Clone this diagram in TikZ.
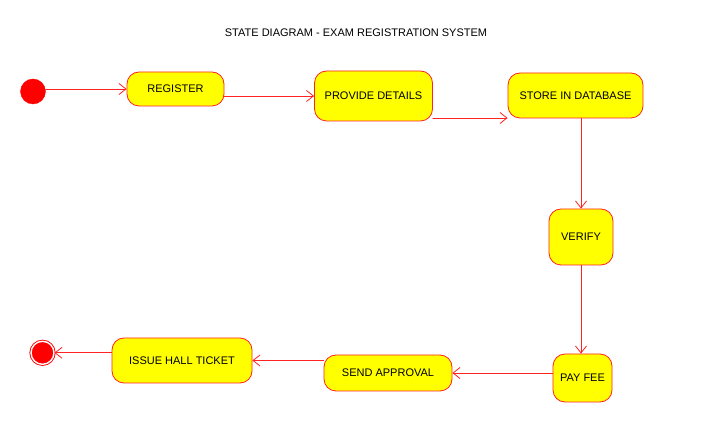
\documentclass[tikz,border=0pt]{standalone}
\usepackage{fontspec}
\setmainfont{Liberation Sans}
\usetikzlibrary{arrows.meta, positioning, calc}

\definecolor{stateyellow}{RGB}{255,255,0}
\definecolor{statered}{RGB}{255,35,35}

\begin{document}
\begin{tikzpicture}[x=1pt, y=-1pt, >={Straight Barb[length=7pt, width=11pt]}, line cap=round, line join=round]
	
	%======================
	% STYLES
	%======================
	\tikzset{
		state/.style={draw=statered, fill=stateyellow, line width=0.8pt, rounded corners=12pt,
			inner sep=0pt, text=black, font=\fontsize{11}{13}\selectfont},
		flow/.style={draw=statered, line width=0.8pt, ->},
		initial/.style={circle, fill=red, draw=red, minimum size=25pt, inner sep=0pt},
		final/.style={circle, fill=red, draw=red, line width=0.9pt, double=white, double distance=1.4pt,
			minimum size=23pt, inner sep=0pt},
		caption/.style={font=\fontsize{11}{13}\selectfont, text=black}
	}
	
	\useasboundingbox (0,0) rectangle (707,427);
	
	% title
	\node[caption] (title) at (356,33) {STATE DIAGRAM - EXAM REGISTRATION SYSTEM};
	
	%======================
	% STATES (pixel coordinates of the layout)
	%======================
	\node[initial] (start) at (33,91.5) {};
	\node[state, minimum width=97pt, minimum height=34pt] (register) at (175.5,89) {REGISTER};
	\node[state, minimum width=118pt, minimum height=50pt] (provide) at (373.5,96) {PROVIDE DETAILS};
	\node[state, minimum width=135pt, minimum height=45pt] (store) at (575.5,95.5) {STORE IN DATABASE};
	\node[state, minimum width=64pt, minimum height=56pt] (verify) at (581,237) {VERIFY};
	\node[state, minimum width=59pt, minimum height=48pt] (payfee) at (582.5,378) {PAY FEE};
	\node[state, minimum width=128pt, minimum height=36pt] (send) at (388,373) {SEND APPROVAL};
	\node[state, minimum width=140pt, minimum height=45pt] (issue) at (182,360.5) {ISSUE HALL TICKET};
	\node[final] (stop) at (42.5,352.8) {};
	
	%======================
	% TRANSITIONS
	%======================
	\draw[flow] (register.west -| start.east) -- (register.west);
	\draw[flow] (register.east |- provide.west) -- (provide.west);
	
	% low exit from provide details
	\coordinate (pdout) at ([yshift=-22pt]provide.east);
	\draw[flow] (pdout) -- (pdout -| store.west);
	
	\draw[flow] (store.south -| verify.north) -- (verify.north);
	\draw[flow] (verify.south) -- (verify.south |- payfee.north);
	\draw[flow] (payfee.west |- send.east) -- (send.east);
	\draw[flow] (send.west |- issue.east) -- (issue.east);
	\draw[flow] (issue.west |- stop.east) -- (stop.east);
	
\end{tikzpicture}
\end{document}
